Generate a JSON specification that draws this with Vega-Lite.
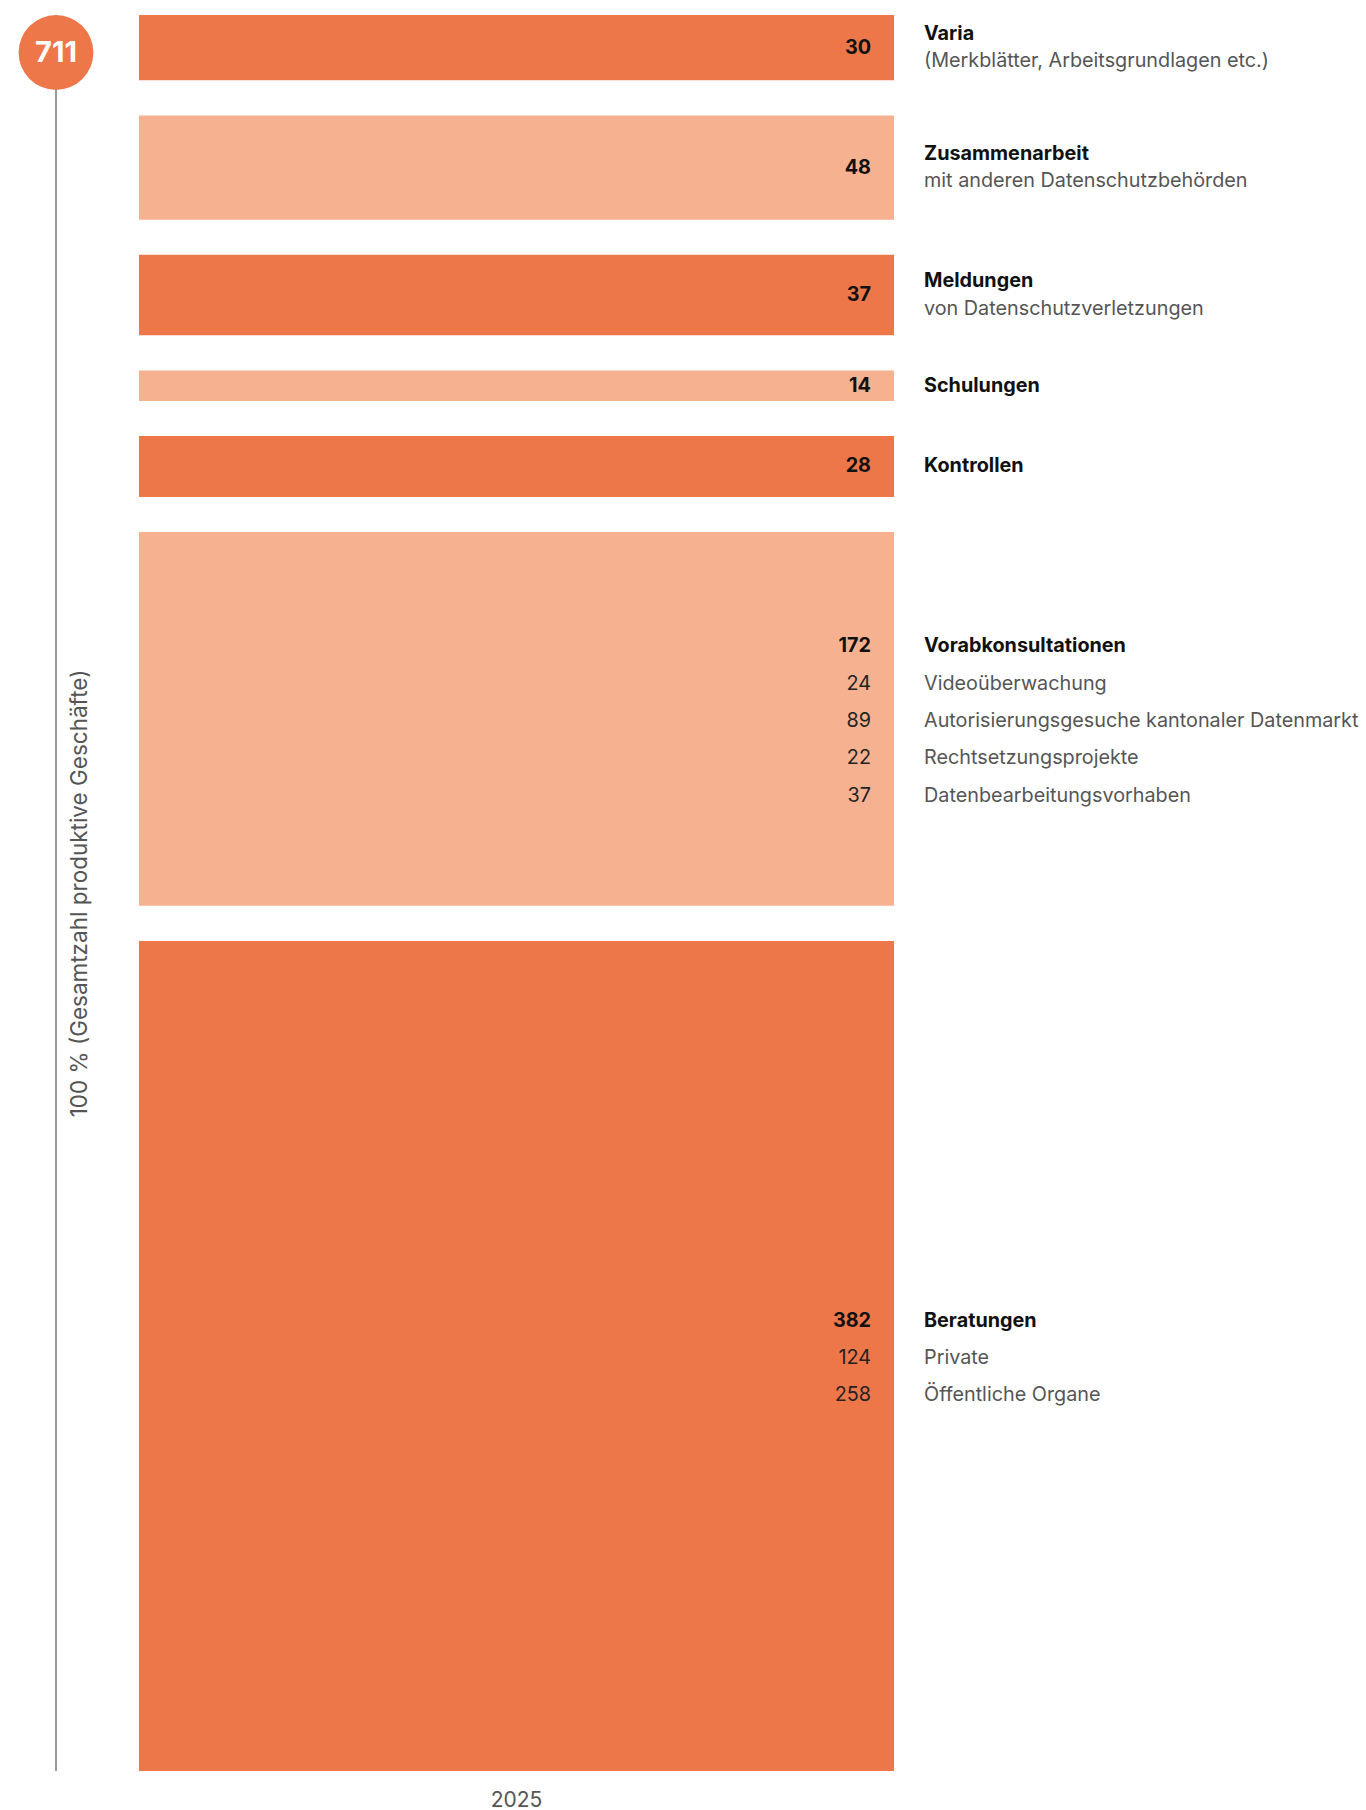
{
  "$schema": "https://vega.github.io/schema/vega-lite/v6.json",
  "padding": {"left": 0, "top": 14, "right": 0, "bottom": 0},
  "autosize": {"type": "pad"},
  "bounds": "flush",
  "spacing": 27,
  "config": {"font": "Inter", "view": {"stroke": null}},
  "datasets": {
    "segments": [
      {"year": "2025", "order": 1, "cat": "Beratungen", "value": 382, "partNames": ["Private", "Öffentliche Organe"], "partValues": [124, 258]},
      {"year": "2025", "order": 2, "cat": "Vorabkonsultationen", "value": 172, "partNames": ["Videoüberwachung", "Autorisierungsgesuche kantonaler Datenmarkt", "Rechtsetzungsprojekte", "Datenbearbeitungsvorhaben"], "partValues": [24, 89, 22, 37]},
      {"year": "2025", "order": 3, "cat": "Kontrollen", "value": 28},
      {"year": "2025", "order": 4, "cat": "Schulungen", "value": 14},
      {"year": "2025", "order": 5, "cat": "Meldungen", "value": 37, "note": "von Datenschutzverletzungen"},
      {"year": "2025", "order": 6, "cat": "Zusammenarbeit", "value": 48, "note": "mit anderen Datenschutzbehörden"},
      {"year": "2025", "order": 7, "cat": "Varia", "value": 30, "note": "(Merkblätter, Arbeitsgrundlagen etc.)"}
    ]
  },
  "hconcat": [
    {
      "width": 112,
      "height": 1756,
      "data": {"name": "segments"},
      "transform": [
        {"aggregate": [{"op": "sum", "field": "value", "as": "total"}, {"op": "count", "as": "n"}]},
        {"calculate": "datum.total + (datum.n - 1) * 16.2", "as": "top"}
      ],
      "layer": [
        {
          "mark": {"type": "rule", "color": "#9a9a9a", "strokeWidth": 2},
          "encoding": {
            "y": {"field": "top", "type": "quantitative", "scale": {"domain": [0, 808.2], "nice": false, "zero": true}, "axis": null},
            "y2": {"datum": 0}
          }
        },
        {
          "mark": {"type": "point", "shape": "circle", "filled": true, "size": 5600, "color": "#EE774A", "opacity": 1, "yOffset": 37.5},
          "encoding": {"y": {"field": "top", "type": "quantitative"}}
        },
        {
          "mark": {"type": "text", "color": "#ffffff", "fontWeight": "bold", "fontSize": 29, "yOffset": 38, "baseline": "middle", "align": "center"},
          "encoding": {
            "y": {"field": "top", "type": "quantitative"},
            "text": {"field": "total", "type": "quantitative"}
          }
        }
      ]
    },
    {
      "width": 755,
      "height": 1756,
      "data": {"name": "segments"},
      "transform": [
        {"window": [{"op": "sum", "field": "value", "as": "cum"}], "sort": [{"field": "order"}], "frame": [null, 0]},
        {"calculate": "datum.cum - datum.value + (datum.order - 1) * 16.2", "as": "y0"},
        {"calculate": "datum.cum + (datum.order - 1) * 16.2", "as": "y1"},
        {"calculate": "(datum.y0 + datum.y1) / 2", "as": "mid"},
        {"calculate": "datum.order % 2 == 1 ? 'dunkel' : 'hell'", "as": "tone"},
        {"calculate": "isArray(datum.partNames) ? length(datum.partNames) : 0", "as": "np"},
        {"calculate": "datum.np > 0 ? datum.mid + datum.np / 2 * 17.2 - 0.9 : (isValid(datum.note) ? datum.mid + 6.375 : datum.mid)", "as": "titleY"},
        {"calculate": "datum.np > 0 ? datum.titleY : datum.mid", "as": "valueY"},
        {"calculate": "datum.mid - 6.375", "as": "noteY"}
      ],
      "layer": [
        {
          "mark": {"type": "bar"},
          "encoding": {
            "x": {"field": "year", "type": "nominal", "scale": {"paddingInner": 0, "paddingOuter": 0},
                  "axis": {"title": null, "domain": false, "ticks": false, "labelFontSize": 21, "labelColor": "#555555", "labelFont": "Inter", "labelPadding": 18, "labelAngle": 0}},
            "y": {"field": "y0", "type": "quantitative", "scale": {"domain": [0, 808.2], "nice": false, "zero": true},
                  "axis": {"title": "100 % (Gesamtzahl produktive Geschäfte)", "domain": false, "ticks": false, "labels": false, "grid": false, "titleFont": "Inter", "titleFontSize": 22.5, "titleFontWeight": "normal", "titleColor": "#555555", "titlePadding": 48}},
            "y2": {"field": "y1"},
            "color": {"field": "tone", "type": "nominal", "scale": {"domain": ["dunkel", "hell"], "range": ["#EE774A", "#F6B290"]}, "legend": null}
          }
        },
        {
          "mark": {"type": "text", "align": "left", "baseline": "middle", "dx": 30, "fontSize": 19.8, "fontWeight": "bold", "color": "#111111"},
          "encoding": {
            "x": {"field": "year", "type": "nominal", "bandPosition": 1},
            "y": {"field": "titleY", "type": "quantitative"},
            "text": {"field": "cat", "type": "nominal"}
          }
        },
        {
          "transform": [{"filter": "isValid(datum.note)"}],
          "mark": {"type": "text", "align": "left", "baseline": "middle", "dx": 30, "fontSize": 19.8, "color": "#555555"},
          "encoding": {
            "x": {"field": "year", "type": "nominal", "bandPosition": 1},
            "y": {"field": "noteY", "type": "quantitative"},
            "text": {"field": "note", "type": "nominal"}
          }
        },
        {
          "mark": {"type": "text", "align": "right", "baseline": "middle", "dx": -23, "fontSize": 19.8, "fontWeight": "bold", "color": "#111111"},
          "encoding": {
            "x": {"field": "year", "type": "nominal", "bandPosition": 1},
            "y": {"field": "valueY", "type": "quantitative"},
            "text": {"field": "value", "type": "quantitative"}
          }
        },
        {
          "transform": [
            {"filter": "datum.np > 0"},
            {"flatten": ["partNames", "partValues"], "as": ["pname", "pvalue"]},
            {"window": [{"op": "row_number", "as": "j"}], "groupby": ["cat"]},
            {"calculate": "datum.titleY - datum.j * 17.2", "as": "py"}
          ],
          "layer": [
            {
              "mark": {"type": "text", "align": "left", "baseline": "middle", "dx": 30, "fontSize": 19.8, "color": "#555555"},
              "encoding": {
                "x": {"field": "year", "type": "nominal", "bandPosition": 1},
                "y": {"field": "py", "type": "quantitative"},
                "text": {"field": "pname", "type": "nominal"}
              }
            },
            {
              "mark": {"type": "text", "align": "right", "baseline": "middle", "dx": -23, "fontSize": 19.8, "color": "#222222"},
              "encoding": {
                "x": {"field": "year", "type": "nominal", "bandPosition": 1},
                "y": {"field": "py", "type": "quantitative"},
                "text": {"field": "pvalue", "type": "quantitative"}
              }
            }
          ]
        }
      ]
    }
  ]
}
